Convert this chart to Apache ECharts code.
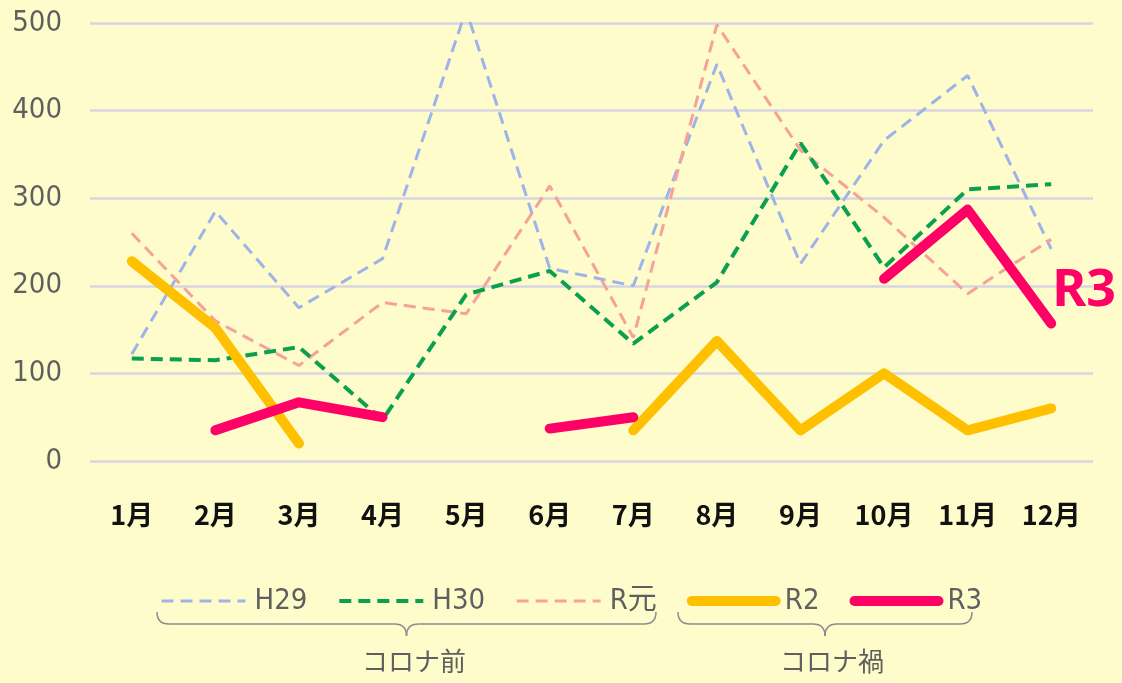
<!doctype html>
<html>
<head>
<meta charset="UTF-8">
<title>月別推移</title>
<script src="https://cdn.jsdelivr.net/npm/echarts@6/dist/echarts.min.js"></script>
<style>
  html, body { margin: 0; padding: 0; background: #FEFCCB; }
  #main { width: 1122px; height: 683px; }
</style>
</head>
<body>
<div id="main"></div>
<script>
// 月
var months = ['1月', '2月', '3月', '4月', '5月', '6月', '7月', '8月', '9月', '10月', '11月', '12月'];
// 各年度の値（null は欠測）
var h29 = [122, 285, 175, 231, 515, 220, 200, 453, 225, 366, 440, 242];
var h30 = [117, 115, 130, 47, 190, 217, 134, 204, 363, 221, 310, 316];
var rGan = [260, 160, 109, 181, 168, 314, 141, 498, 355, 278, 191, 253];
var r2 = [228, 152, 20, null, null, null, 35, 137, 35, 100, 35, 60];
var r3 = [null, 35, 67, 50, null, 37, 50, null, null, 208, 287, 157];
var yTicks = [0, 100, 200, 300, 400, 500];

var myChart = echarts.init(document.getElementById('main'));

var numFont = '"DejaVu Sans Condensed", "Liberation Sans Narrow", "Noto Sans CJK JP", sans-serif';
var grey = '#5f5f5f';

// 系列ごとの線の見た目（凡例でも使う）
var styles = {
    'H29': { color: '#9DB3EA', width: 3, type: [12, 7] },
    'H30': { color: '#0AA04E', width: 4, type: [12, 7] },
    'R元': { color: '#F6A29B', width: 3, type: [12, 7] },
    'R2': { color: '#FFC000', width: 10, type: 'solid', cap: 'round', join: 'round' },
    'R3': { color: '#FF0066', width: 10, type: 'solid', cap: 'round', join: 'round' }
};

// 中括弧（グループ表示）
function brace(x1, x2, y, h) {
    var mid = (x1 + x2) / 2;
    var r = 12;
    var st = { stroke: '#8c8c8c', lineWidth: 1.5, fill: null };
    var yb = y + h;
    return [
        { type: 'bezierCurve', shape: { x1: x1, y1: y, x2: x1 + r, y2: yb, cpx1: x1, cpy1: yb }, style: st },
        { type: 'line', shape: { x1: x1 + r, y1: yb, x2: mid - r, y2: yb }, style: st },
        { type: 'bezierCurve', shape: { x1: mid - r, y1: yb, x2: mid, y2: yb + h, cpx1: mid, cpy1: yb }, style: st },
        { type: 'bezierCurve', shape: { x1: mid, y1: yb + h, x2: mid + r, y2: yb, cpx1: mid, cpy1: yb }, style: st },
        { type: 'line', shape: { x1: mid + r, y1: yb, x2: x2 - r, y2: yb }, style: st },
        { type: 'bezierCurve', shape: { x1: x2 - r, y1: yb, x2: x2, y2: y, cpx1: x2, cpy1: yb }, style: st }
    ];
}

var graphics = [].concat(brace(157, 656, 612, 12), brace(678, 972, 612, 12));
graphics.push({
    type: 'text', left: 362, top: 648,
    style: { text: 'コロナ前', fill: grey, font: '26px "Noto Sans CJK JP", sans-serif' }
});
graphics.push({
    type: 'text', left: 780, top: 648,
    style: { text: 'コロナ禍', fill: grey, font: '26px "Noto Sans CJK JP", sans-serif' }
});

var names = ['H29', 'H30', 'R元', 'R2', 'R3'];
var legendData = names.map(function (n) {
    return {
        name: n,
        itemStyle: { color: 'transparent', borderWidth: 0 },
        lineStyle: styles[n]
    };
});

function lineSeries(name, data, z) {
    return {
        name: name, type: 'line', data: data, symbol: 'none', z: z,
        color: styles[name].color,
        lineStyle: styles[name]
    };
}

var r3Series = lineSeries('R3', r3, 5);
r3Series.endLabel = {
    show: true,
    formatter: 'R3',
    color: '#FF0066',
    fontSize: 52,
    fontWeight: 'bold',
    fontFamily: '"Noto Sans", sans-serif',
    distance: 1,
    offset: [0, -32]
};

var option = {
    backgroundColor: '#FEFCCB',
    animation: false,
    grid: { left: 90, right: 29, top: 23, bottom: 222 },
    legend: {
        data: legendData,
        left: 155,
        top: 580,
        itemWidth: 84,
        itemHeight: 14,
        itemGap: 30,
        textStyle: {
            color: grey,
            fontSize: 29,
            fontFamily: numFont,
            lineHeight: 32,
            padding: [0, 0, 0, 4]
        }
    },
    xAxis: {
        type: 'category',
        data: months,
        axisLine: { show: false },
        axisTick: { show: false },
        axisLabel: {
            color: '#111',
            fontSize: 27,
            fontWeight: 'bold',
            fontFamily: '"Noto Sans CJK JP", sans-serif',
            margin: 40
        }
    },
    yAxis: {
        type: 'value',
        min: yTicks[0],
        max: yTicks[yTicks.length - 1],
        interval: 100,
        axisLine: { show: false },
        axisTick: { show: false },
        axisLabel: {
            color: grey,
            fontSize: 29,
            fontFamily: numFont,
            margin: 28
        },
        splitLine: { lineStyle: { color: '#D9D4E2', width: 2.5 } }
    },
    series: [
        lineSeries('H29', h29, 2),
        lineSeries('H30', h30, 3),
        lineSeries('R元', rGan, 2),
        lineSeries('R2', r2, 4),
        r3Series
    ],
    graphic: graphics
};

myChart.setOption(option);
</script>
</body>
</html>
